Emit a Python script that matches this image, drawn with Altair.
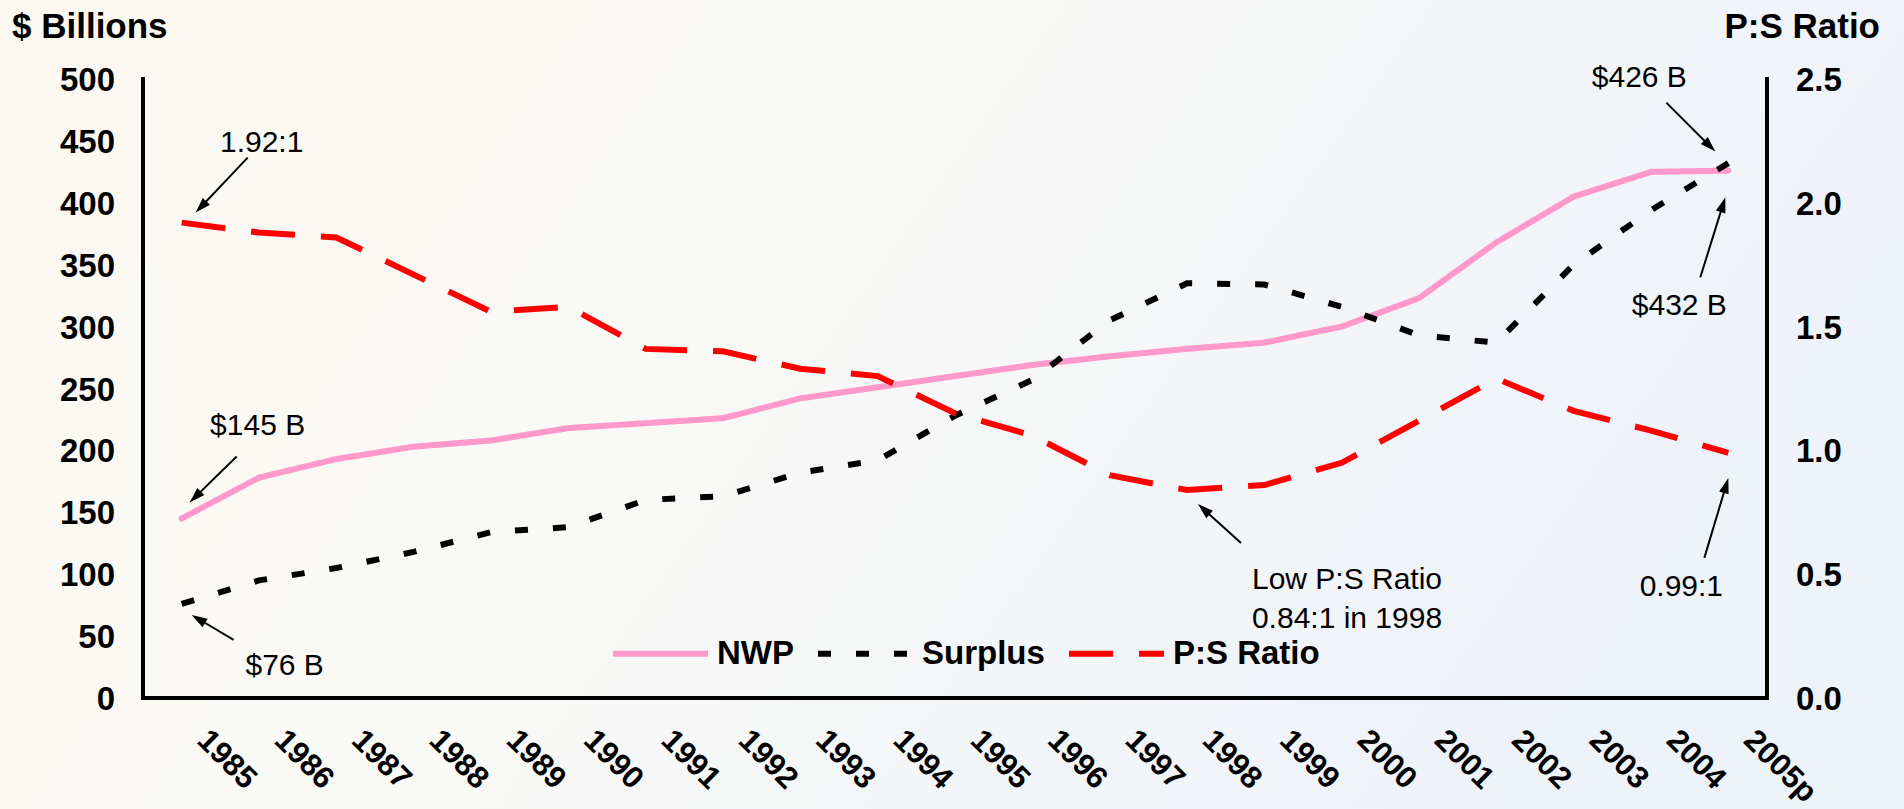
import math

import altair as alt
import pandas as pd

# ---- data -------------------------------------------------------------
years = ["1985", "1986", "1987", "1988", "1989", "1990", "1991", "1992",
         "1993", "1994", "1995", "1996", "1997", "1998", "1999", "2000",
         "2001", "2002", "2003", "2004", "2005p"]
nwp = [145, 178, 193, 203, 208, 218, 222, 226, 242, 251, 260,
       269, 276, 282, 287, 300, 323, 368, 405, 425, 426]
surplus = [76, 95, 105, 118, 134, 138, 160, 163, 182, 192, 228,
           257, 305, 335, 334, 316, 293, 287, 350, 394, 432]
ps_ratio = [1.92, 1.88, 1.86, 1.71, 1.56, 1.58, 1.41, 1.40, 1.33, 1.30, 1.15,
            1.06, 0.90, 0.84, 0.86, 0.95, 1.12, 1.29, 1.16, 1.08, 0.99]

usd_ticks = [0, 50, 100, 150, 200, 250, 300, 350, 400, 450, 500]
ratio_ticks = [0.0, 0.5, 1.0, 1.5, 2.0, 2.5]

series_names = ["NWP", "Surplus", "P:S Ratio"]
series_colors = ["#FF99CC", "#000000", "#FF0000"]
series_dashes = [[1, 0], [13, 25], [44, 26]]

# callouts: text, year index, value, then pixel offsets from that point
# for the text centre, the arrow tip and the arrow tail
usd_notes = [
    ("$145 B", 0, 145, (76, -92), (8, -16), (55, -62)),
    ("$76 B", 0, 76, (103, 62), (10, 11), (52, 36)),
    ("$426 B", 20, 426, (-89, -93), (-13, -19), (-62, -68)),
    ("$432 B", 20, 432, (-49, 143), (-3, 34), (-28, 114)),
]
ratio_notes = [
    ("1.92:1", 0, 1.92, (80, -80), (14, -10), (66, -65)),
    ("Low P:S Ratio\n0.84:1 in 1998", 13, 0.84, (160, 90), (11, 14), (54, 53)),
    ("0.99:1", 20, 0.99, (-47, 134), (0, 25), (-24, 105)),
]

# ---- geometry ---------------------------------------------------------
W, H = 1624, 619
PAD = {"left": 143, "top": 79, "right": 137, "bottom": 111}
X_DOMAIN = [-0.5, 20.5]
USD_DOMAIN = [0, 500]
RATIO_DOMAIN = [0, 2.5]
RATIO_TO_USD = USD_DOMAIN[1] / RATIO_DOMAIN[1]   # right axis shares the left scale
px_per_x = W / (X_DOMAIN[1] - X_DOMAIN[0])
px_per_usd = H / (USD_DOMAIN[1] - USD_DOMAIN[0])
px_per_ratio = H / (RATIO_DOMAIN[1] - RATIO_DOMAIN[0])

FONT = "Arial, Liberation Sans, sans-serif"
BOLD = dict(font=FONT, fontWeight="bold", color="black")


def build_notes(notes, px_per_y):
    texts, arrows = [], []
    for text, i, v, t_off, tip_off, tail_off in notes:
        def to_data(off):
            return i + off[0] / px_per_x, v - off[1] / px_per_y
        tx, ty = to_data(t_off)
        texts.append({"x": tx, "y": ty, "label": text})
        dx = tip_off[0] - tail_off[0]
        dy = tip_off[1] - tail_off[1]
        n = math.hypot(dx, dy)
        ux, uy = dx / n, dy / n
        end_off = (tip_off[0] - 8 * ux, tip_off[1] - 8 * uy)
        x1, y1 = to_data(tail_off)
        x2, y2 = to_data(end_off)
        hx, hy = to_data(tip_off)
        angle = math.degrees(math.atan2(ux, -uy)) % 360
        arrows.append({"x": x1, "y": y1, "x2": x2, "y2": y2,
                       "hx": hx, "hy": hy, "angle": angle})
    return pd.DataFrame(texts), pd.DataFrame(arrows)


idx = list(range(len(years)))
df_nwp = pd.DataFrame({"x": idx, "value": nwp, "series": "NWP"})
df_surplus = pd.DataFrame({"x": idx, "value": surplus, "series": "Surplus"})
df_ratio = pd.DataFrame({"x": idx, "ratio": ps_ratio, "series": "P:S Ratio"})
df_years = pd.DataFrame({"x": idx, "year": years})
df_usd_ticks = pd.DataFrame({"tick": usd_ticks})
df_ratio_ticks = pd.DataFrame({"tick": ratio_ticks})
usd_text, usd_arrows = build_notes(usd_notes, px_per_usd)
ratio_text, ratio_arrows = build_notes(ratio_notes, px_per_ratio)
one_row = pd.DataFrame({"k": [0]})

# ---- scales / encodings ----------------------------------------------
x_scale = alt.Scale(domain=X_DOMAIN, nice=False, zero=False)
y_scale = alt.Scale(domain=USD_DOMAIN, nice=False, zero=True)


def X(field):
    return alt.X(f"{field}:Q", scale=x_scale, axis=None)


def Y(field):
    return alt.Y(f"{field}:Q", scale=y_scale, axis=None)


def to_usd(chart, *fields):
    # ratio values are placed on the shared $ scale
    for f in fields:
        chart = chart.transform_calculate(**{f: f"datum.{f} * {RATIO_TO_USD}"})
    return chart


legend = alt.Legend(
    title=None, orient="none", direction="horizontal",
    legendX=467, legendY=524, symbolType="stroke", symbolSize=9025,
    symbolStrokeWidth=6, labelFont=FONT, labelFontSize=33,
    labelFontWeight="bold", labelColor="black", labelOffset=6,
    columnPadding=12, padding=0,
)
color_enc = alt.Color("series:N", scale=alt.Scale(domain=series_names, range=series_colors), legend=legend)
dash_enc = alt.StrokeDash("series:N", scale=alt.Scale(domain=series_names, range=series_dashes), legend=legend)

# ---- background -------------------------------------------------------
backdrop = alt.Chart(one_row).mark_rect(
    color=alt.LinearGradient(
        gradient="linear", x1=0, x2=1, y1=0, y2=0.3,
        stops=[
            alt.GradientStop(color="#FBF8F0", offset=0),
            alt.GradientStop(color="#F9F9F6", offset=0.45),
            alt.GradientStop(color="#EEF2F9", offset=1),
        ],
    )
).encode(
    x=alt.value(-PAD["left"]), x2=alt.value(W + PAD["right"]),
    y=alt.value(-PAD["top"]), y2=alt.value(H + PAD["bottom"]),
)

# ---- axes -------------------------------------------------------------
axis_left = alt.Chart(one_row).mark_rule(color="black", strokeWidth=4, strokeCap="square").encode(
    x=alt.value(0), y=alt.value(0), y2=alt.value(H))
axis_right = alt.Chart(one_row).mark_rule(color="black", strokeWidth=4, strokeCap="square").encode(
    x=alt.value(W), y=alt.value(0), y2=alt.value(H))
axis_bottom = alt.Chart(one_row).mark_rule(color="black", strokeWidth=4, strokeCap="square").encode(
    x=alt.value(0), x2=alt.value(W), y=alt.value(H))

usd_labels = alt.Chart(df_usd_ticks).mark_text(
    align="right", baseline="middle", fontSize=33, dy=2, **BOLD
).encode(x=alt.value(-28), y=Y("tick"), text=alt.Text("tick:Q", format="d"))

ratio_labels = to_usd(
    alt.Chart(df_ratio_ticks).transform_calculate(label="format(datum.tick, '.1f')"), "tick"
).mark_text(
    align="left", baseline="middle", fontSize=33, dy=2, **BOLD
).encode(x=alt.value(W + 29), y=Y("tick"), text="label:N")

year_labels = alt.Chart(df_years).mark_text(
    angle=45, align="left", baseline="top", fontSize=31, xOffset=31, **BOLD
).encode(x=X("x"), y=alt.value(H + 27), text="year:N")

usd_title = alt.Chart(one_row).mark_text(
    align="left", baseline="alphabetic", fontSize=35, **BOLD
).encode(x=alt.value(-131), y=alt.value(-41), text=alt.value("$ Billions"))

ratio_title = alt.Chart(one_row).mark_text(
    align="right", baseline="alphabetic", fontSize=35, **BOLD
).encode(x=alt.value(W + 113), y=alt.value(-41), text=alt.value("P:S Ratio"))


# ---- callouts ---------------------------------------------------------
def arrow_layers(arrows, ratio=False):
    rule_base = alt.Chart(arrows)
    head_base = alt.Chart(arrows)
    if ratio:
        rule_base = to_usd(rule_base, "y", "y2")
        head_base = to_usd(head_base, "hy")
    rule = rule_base.mark_rule(color="black", strokeWidth=2).encode(
        x=X("x"), y=Y("y"), x2="x2:Q", y2="y2:Q")
    head = head_base.mark_point(
        shape="M0,0L-0.38,1.2L0.38,1.2Z", filled=True, opacity=1,
        color="black", strokeWidth=0, size=676,
    ).encode(x=X("hx"), y=Y("hy"), angle=alt.Angle("angle:Q", scale=None))
    return [rule, head]


def text_layer(texts, ratio=False):
    base = alt.Chart(texts)
    if ratio:
        base = to_usd(base, "y")
    return base.mark_text(
        font=FONT, fontSize=30, color="black", align="center",
        baseline="middle", lineBreak="\n", lineHeight=39,
    ).encode(x=X("x"), y=Y("y"), text="label:N")


# ---- series -----------------------------------------------------------
nwp_line = alt.Chart(df_nwp).mark_line(
    strokeWidth=6, strokeCap="round", strokeJoin="round"
).encode(x=X("x"), y=Y("value"), color=color_enc, strokeDash=dash_enc)

surplus_line = alt.Chart(df_surplus).mark_line(
    strokeWidth=6, strokeCap="butt", strokeJoin="miter"
).encode(x=X("x"), y=Y("value"), color=color_enc, strokeDash=dash_enc)

ratio_line = to_usd(alt.Chart(df_ratio), "ratio").mark_line(
    strokeWidth=6, strokeCap="butt", strokeJoin="miter"
).encode(x=X("x"), y=Y("ratio"), color=color_enc, strokeDash=dash_enc)

chart = (
    alt.layer(
        backdrop,
        nwp_line, surplus_line, ratio_line,
        *arrow_layers(usd_arrows), text_layer(usd_text),
        *arrow_layers(ratio_arrows, ratio=True), text_layer(ratio_text, ratio=True),
        axis_left, axis_right, axis_bottom,
        usd_labels, ratio_labels, year_labels, usd_title, ratio_title,
    )
    .properties(
        width=W, height=H, padding=PAD,
        autosize=alt.AutoSizeParams(type="none"),
    )
    .configure(background="#F7F8F5", font=FONT)
    .configure_view(stroke=None)
)

chart.save("out.html", embed_options={"renderer": "svg", "actions": False})
